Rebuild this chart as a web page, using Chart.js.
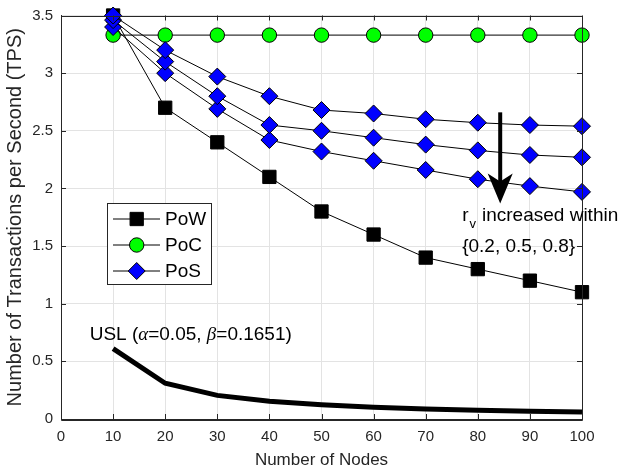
<!DOCTYPE html>
<html><head><meta charset="utf-8">
<script src="https://cdn.jsdelivr.net/npm/chart.js@4.4.0/dist/chart.umd.min.js"></script>
<style>html,body{margin:0;padding:0;background:#fff;} #wrap{width:621px;height:476px;position:relative;}</style>
</head><body><div id="wrap"><canvas id="c" width="621" height="476"></canvas></div>
<script>
// ---- data ----
const nodes = [10, 20, 30, 40, 50, 60, 70, 80, 90, 100];
const powTps = [3.5, 2.7, 2.4, 2.1, 1.8, 1.6, 1.4, 1.3, 1.2, 1.1];
const pocTps = [3.33, 3.33, 3.33, 3.33, 3.33, 3.33, 3.33, 3.33, 3.33, 3.33];
const posHigh = [3.5, 3.2, 2.97, 2.8, 2.68, 2.65, 2.6, 2.57, 2.55, 2.54];
const posMid = [3.46, 3.1, 2.8, 2.55, 2.5, 2.44, 2.38, 2.33, 2.29, 2.27];
const posLow = [3.4, 3.0, 2.69, 2.42, 2.32, 2.24, 2.16, 2.08, 2.02, 1.97];
const uslTps = [0.61, 0.31, 0.205, 0.154, 0.123, 0.102, 0.087, 0.076, 0.068, 0.061];
const xTicks = [0, 10, 20, 30, 40, 50, 60, 70, 80, 90, 100];
const yTicks = [0, 0.5, 1, 1.5, 2, 2.5, 3, 3.5];
const yTickLabels = ['0', '0.5', '1', '1.5', '2', '2.5', '3', '3.5'];
const legendNames = ['PoW', 'PoC', 'PoS'];
const xTitle = 'Number of Nodes';
const yTitle = 'Number of Transactions per Second (TPS)';

const FONT = '"Liberation Sans", Arial, Helvetica, sans-serif';
const AX = '#262626';

const toXY = (ys) => nodes.map((n, i) => ({x: n, y: ys[i]}));

const styles = {
  pow: {pointStyle: 'rect', pointRadius: 9.4, pointBackgroundColor: '#000', pointBorderColor: '#000', pointBorderWidth: 1},
  poc: {pointStyle: 'circle', pointRadius: 7.2, pointBackgroundColor: '#00ff00', pointBorderColor: '#000', pointBorderWidth: 1},
  pos: {pointStyle: 'rectRot', pointRadius: 8.5, pointBackgroundColor: '#0000ff', pointBorderColor: '#000', pointBorderWidth: 1}
};

const overlay = {
  id: 'overlay',
  afterDraw(chart) {
    const ctx = chart.ctx, a = chart.chartArea;
    const xs = chart.scales.x, ys = chart.scales.y;
    ctx.save();
    // box + inward ticks
    ctx.strokeStyle = AX; ctx.lineWidth = 1;
    ctx.beginPath();
    ctx.rect(Math.round(a.left) + 0.5, Math.round(a.top) + 0.5, Math.round(a.right - a.left), Math.round(a.bottom - a.top));
    ctx.stroke();
    const tl = 5;
    ctx.beginPath();
    xTicks.forEach(v => {
      const px = Math.round(xs.getPixelForValue(v)) + 0.5;
      ctx.moveTo(px, a.bottom); ctx.lineTo(px, a.bottom - tl);
      ctx.moveTo(px, a.top); ctx.lineTo(px, a.top + tl);
    });
    yTicks.forEach(v => {
      const py = Math.round(ys.getPixelForValue(v)) + 0.5;
      ctx.moveTo(a.left, py); ctx.lineTo(a.left + tl, py);
      ctx.moveTo(a.right, py); ctx.lineTo(a.right - tl, py);
    });
    ctx.stroke();

    // arrow
    const axp = xs.getPixelForValue(84.3);
    const aTop = ys.getPixelForValue(2.66);
    const aTip = ys.getPixelForValue(1.87);
    ctx.strokeStyle = '#000'; ctx.fillStyle = '#000'; ctx.lineWidth = 4;
    ctx.beginPath(); ctx.moveTo(axp, aTop); ctx.lineTo(axp, aTip - 20); ctx.stroke();
    ctx.beginPath();
    ctx.moveTo(axp, aTip);
    ctx.lineTo(axp - 12.5, aTip - 30);
    ctx.lineTo(axp, aTip - 22);
    ctx.lineTo(axp + 12.5, aTip - 30);
    ctx.closePath(); ctx.fill();

    // annotation texts
    ctx.fillStyle = '#000';
    ctx.textBaseline = 'alphabetic'; ctx.textAlign = 'left';
    const normal = '19px ' + FONT;
    const greek = 'italic 19px "Liberation Serif", "DejaVu Serif", serif';
    let tx = xs.getPixelForValue(5.5), ty = ys.getPixelForValue(0.687);
    const parts = [['USL (', normal], ['\u03b1', greek], ['=0.05, ', normal], ['\u03b2', greek], ['=0.1651)', normal]];
    parts.forEach(([t, f]) => { ctx.font = f; ctx.fillText(t, tx, ty); tx += ctx.measureText(t).width; });

    let rx = xs.getPixelForValue(77), ry = ys.getPixelForValue(1.72);
    ctx.font = normal; ctx.fillText('r', rx, ry); rx += ctx.measureText('r').width + 1;
    ctx.font = '13px ' + FONT; ctx.fillText('v', rx, ry + 7); rx += ctx.measureText('v').width + 6;
    ctx.font = normal; ctx.fillText('increased within', rx, ry);
    ctx.fillText('{0.2, 0.5, 0.8}', xs.getPixelForValue(77), ys.getPixelForValue(1.45));

    // legend
    const lx = 107.5, ly = 203.5, lw = 104, lh = 81;
    ctx.fillStyle = '#fff'; ctx.fillRect(lx, ly, lw, lh);
    ctx.strokeStyle = AX; ctx.lineWidth = 1; ctx.strokeRect(lx, ly, lw, lh);
    const keys = ['pow', 'poc', 'pos'];
    legendNames.forEach((name, i) => {
      const cy = 219 + i * 26;
      ctx.strokeStyle = '#000'; ctx.lineWidth = 1;
      ctx.beginPath(); ctx.moveTo(113, cy); ctx.lineTo(160, cy); ctx.stroke();
      const s = styles[keys[i]];
      ctx.fillStyle = s.pointBackgroundColor; ctx.strokeStyle = s.pointBorderColor; ctx.lineWidth = 1;
      Chart.helpers.drawPoint(ctx, {pointStyle: s.pointStyle, radius: s.pointRadius, rotation: 0, borderWidth: 1}, 136.7, cy);
      ctx.fillStyle = '#000'; ctx.font = normal; ctx.textBaseline = 'middle';
      ctx.fillText(name, 165, cy + 1);
    });
    ctx.restore();
  }
};

const line = (data, st, order) => Object.assign({
  data: toXY(data), borderColor: '#000', borderWidth: 1, showLine: true, order: order, tension: 0, clip: false
}, st);

new Chart(document.getElementById('c'), {
  type: 'scatter',
  data: {
    datasets: [
      line(posHigh, styles.pos, 0),
      line(posMid, styles.pos, 0),
      line(posLow, styles.pos, 0),
      line(pocTps, styles.poc, 1),
      line(powTps, styles.pow, 2),
      {data: toXY(uslTps), borderColor: '#000', borderWidth: 5, showLine: true, pointRadius: 0, order: 3, clip: false}
    ]
  },
  options: {
    responsive: false, animation: false, devicePixelRatio: 1,
    layout: {padding: {top: 8, right: 39, left: 0, bottom: 0}},
    plugins: {legend: {display: false}, tooltip: {enabled: false}},
    scales: {
      x: {
        type: 'linear', min: 0, max: 100,
        afterBuildTicks: (s) => { s.ticks = xTicks.map(v => ({value: v})); },
        afterFit: (s) => { s.height = 57; },
        ticks: {color: AX, font: {family: FONT, size: 15, lineHeight: 1}, padding: 10, maxRotation: 0, autoSkip: false},
        grid: {color: '#e3e3e3', drawTicks: false},
        border: {display: true, color: AX},
        title: {display: true, text: xTitle, color: AX, font: {family: FONT, size: 17}, padding: {top: 0, bottom: 5}}
      },
      y: {
        type: 'linear', min: 0, max: 3.5,
        afterBuildTicks: (s) => { s.ticks = yTicks.map(v => ({value: v})); },
        afterFit: (s) => { s.width = 61; },
        ticks: {color: AX, font: {family: FONT, size: 15, lineHeight: 1}, padding: 8,
          callback: (v) => yTickLabels[yTicks.indexOf(v)]},
        grid: {color: '#e3e3e3', drawTicks: false},
        border: {display: true, color: AX},
        title: {display: true, text: yTitle, color: AX, font: {family: FONT, size: 20}, padding: {top: 3, bottom: 0}}
      }
    }
  },
  plugins: [overlay]
});
</script></body></html>
